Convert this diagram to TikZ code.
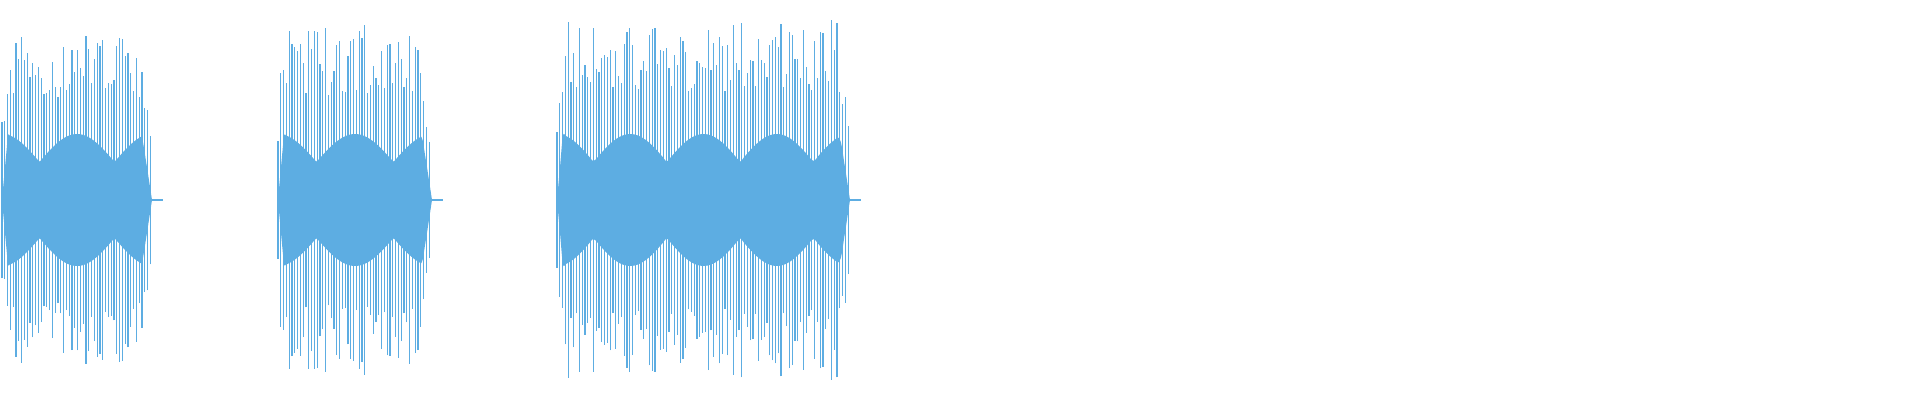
\documentclass[tikz,border=0pt]{standalone}
\usepackage{tikz}
\definecolor{wave}{RGB}{93,173,226}
\tikzset{spike/.style={draw=wave, line width=0.3pt}, core/.style={fill=wave, draw=none}}
\begin{document}
\begin{tikzpicture}[x=0.01cm, y=0.01cm]
    % Canvas
    \useasboundingbox (0,-200) rectangle (1920,200);
    \pgfmathsetseed{7}
    % Three bursts: start / end / outer height / lobes
    \foreach \a/\b/\h/\k in {2/152/165/360, 278/432/175/360, 557/850/180/720}{
        % Dense core band
        \fill[core] plot[domain=\a:\b, samples=100, smooth]
            (\x, {(38+28*abs(sin(\k/(\b-\a)*(\x-\a)-90)))*min(1,(\x-\a)/6)*min(1,(\b-\x)/10)})
            -- plot[domain=\b:\a, samples=100, smooth]
            (\x, {-(38+28*abs(sin(\k/(\b-\a)*(\x-\a)-90)))*min(1,(\x-\a)/6)*min(1,(\b-\x)/10)}) -- cycle;
        % Spikes
        \pgfmathtruncatemacro{\n}{(\b-\a)/2.8}
        \foreach \i in {0,...,\n}{
            \pgfmathsetmacro{\px}{\a+2.8*\i}
            \pgfmathsetmacro{\len}{\h*(0.6+0.4*rnd)*min(1,(\px-\a+6)/12)*min(1,(\b-\px+4)/14)}
            \draw[spike] (\px,-\len) -- (\px,\len);
        }
        % Tail
        \draw[spike, dashed] (\b,0) -- ++(20,0);
    }
\end{tikzpicture}
\end{document}
